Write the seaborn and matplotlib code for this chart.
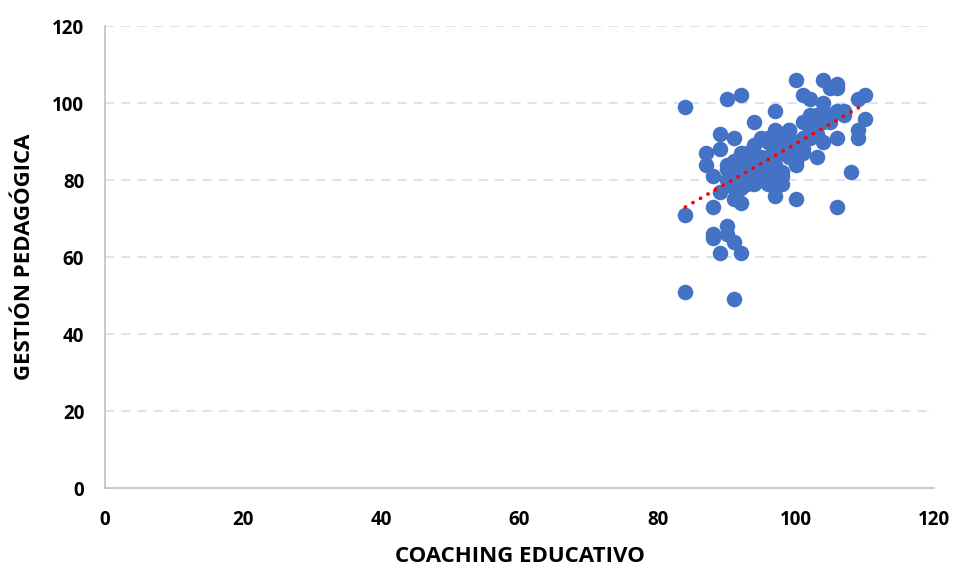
import numpy as np
import pandas as pd
import matplotlib
matplotlib.use("Agg")
import matplotlib.pyplot as plt
import seaborn as sns

# ---- data (COACHING EDUCATIVO vs GESTIÓN PEDAGÓGICA) ----
coaching = [
    84, 84, 84, 90, 92, 94, 89, 91, 87, 89, 92, 87, 88, 88,
    89, 91, 92, 90, 88, 88, 90, 91, 89, 92, 91, 97,
    100, 104, 106, 106, 105, 101, 102, 110, 109, 104,
    102, 103, 106, 107, 110, 109, 109, 106, 104, 103, 108,
    97, 99, 97, 100, 97, 100, 106, 98,
    94, 96, 90, 92, 91, 94, 95, 91, 94, 92, 96,
    97, 98, 98, 100, 101, 97, 102, 104, 105, 107, 101, 99, 98, 96,
    90, 91, 92, 93, 93, 93, 95, 95, 96, 97, 96, 95, 98, 99, 98, 97,
    99, 100, 101, 100, 102, 103, 103, 104, 105, 102, 101, 99, 96, 97,
    95, 94, 93, 92, 92, 93, 94, 97, 91, 90, 92, 95,
]
gestion = [
    99, 71, 51, 101, 102, 95, 92, 91, 87, 88, 87, 84, 81, 73,
    77, 75, 74, 68, 66, 65, 66, 64, 61, 61, 49, 98,
    106, 106, 105, 104, 104, 102, 101, 102, 101, 100,
    97, 97, 98, 97, 96, 93, 91, 91, 90, 86, 82,
    93, 93, 91, 85, 76, 75, 73, 79,
    89, 91, 84, 84, 83, 84, 83, 78, 81, 80, 80,
    82, 82, 81, 84, 87, 86, 96, 96, 97, 98, 95, 93, 92, 90,
    83, 85, 85, 85, 83, 82, 82, 80, 79, 79, 86, 86, 87, 86, 88, 89,
    90, 90, 91, 89, 93, 94, 92, 95, 95, 91, 88, 87, 84, 84,
    85, 86, 87, 86, 78, 79, 79, 78, 80, 80, 82, 91,
]
df = pd.DataFrame({"coaching": coaching, "gestion": gestion})

x_ticks = [0, 20, 40, 60, 80, 100, 120]
y_ticks = [0, 20, 40, 60, 80, 100, 120]

sns.set_style("white")
plt.rcParams["font.family"] = ["Open Sans", "DejaVu Sans"]
plt.rcParams["text.color"] = "black"
plt.rcParams["axes.labelcolor"] = "black"
plt.rcParams["xtick.labelcolor"] = "black"
plt.rcParams["ytick.labelcolor"] = "black"

fig = plt.figure(figsize=(9.55, 5.67), dpi=100)
ax = fig.add_axes([0.110, 0.139, 0.868, 0.815])

# dashed light gridlines
for yv in y_ticks[1:]:
    ax.axhline(yv, color="#D5E0F2", lw=1.3, ls=(0, (5, 4)), zorder=0)

sns.scatterplot(data=df, x="coaching", y="gestion", ax=ax, s=125,
                color="#4472C4", edgecolor="#4472C4", linewidth=0, alpha=1,
                zorder=3, legend=False)

# linear trendline
m, b = np.polyfit(df["coaching"], df["gestion"], 1)
xs = np.array([df["coaching"].min(), df["coaching"].max()])
ax.plot(xs, m * xs + b, color="#FF0000", lw=2.6, ls=(0, (0.1, 2.3)),
        dash_capstyle="round", zorder=4)

ax.set_xlim(0, 120)
ax.set_ylim(0, 120)
ax.set_xticks(x_ticks)
ax.set_yticks(y_ticks)
ax.tick_params(axis="both", labelsize=13.5, length=5, width=1,
               color="#BFBFBF", labelcolor="black", direction="out")
ax.tick_params(axis="x", pad=11)
ax.tick_params(axis="y", pad=10)
for lab in ax.get_xticklabels() + ax.get_yticklabels():
    lab.set_fontweight("bold")

for side in ["top", "right"]:
    ax.spines[side].set_visible(False)
for side in ["left", "bottom"]:
    ax.spines[side].set_color("#BFBFBF")
    ax.spines[side].set_linewidth(1.2)

ax.set_xlabel("COACHING EDUCATIVO", fontsize=16, fontweight="bold", color="black")
ax.set_ylabel("GESTIÓN PEDAGÓGICA", fontsize=16, fontweight="bold", color="black")
ax.xaxis.set_label_coords(0.5, -0.125)
ax.yaxis.set_label_coords(-0.085, 0.5)

fig.savefig("out.png", dpi=100)
